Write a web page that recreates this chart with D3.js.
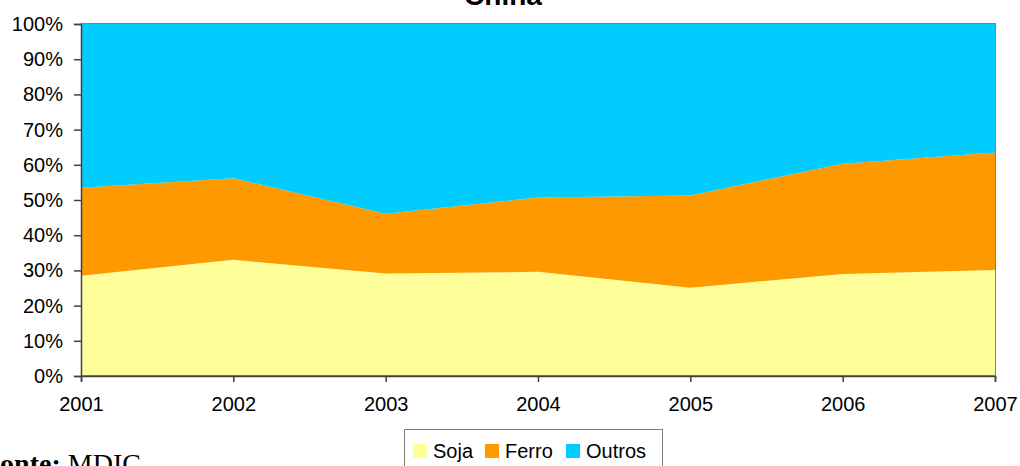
<!DOCTYPE html>
<html>
<head>
<meta charset="utf-8">
<script src="https://cdn.jsdelivr.net/npm/d3@7"></script>
<style>
  html, body { margin: 0; padding: 0; background: #fff; }
  svg { display: block; }
</style>
</head>
<body>
<div id="chart"></div>
<script>
// data (share of exports to China, %)
var years = [2001, 2002, 2003, 2004, 2005, 2006, 2007];
var soja = [28.5, 33.0, 29.1, 29.6, 25.1, 29.0, 30.1];
var ferro = [25.0, 23.2, 17.0, 21.1, 26.2, 31.3, 33.4];
var outros = [46.5, 43.8, 53.9, 49.3, 48.7, 39.7, 36.5];
var seriesNames = ['Soja', 'Ferro', 'Outros'];
var seriesColors = ['#FFFF99', '#FF9900', '#00CCFF'];
var yTicks = [0, 0.1, 0.2, 0.3, 0.4, 0.5, 0.6, 0.7, 0.8, 0.9, 1];

var width = 1020, height = 466;
var margin = { top: 24, right: 25, bottom: 90, left: 81 };
var innerW = width - margin.left - margin.right;
var innerH = height - margin.top - margin.bottom;

var rows = years.map(function (y, i) {
    return { year: y, Soja: soja[i], Ferro: ferro[i], Outros: outros[i] };
});

var svg = d3.select('#chart').append('svg')
    .attr('width', width)
    .attr('height', height)
    .style('font-family', 'Liberation Sans, Arial, sans-serif');

var g = svg.append('g')
    .attr('transform', 'translate(' + margin.left + ',' + margin.top + ')');

var x = d3.scaleLinear().domain(d3.extent(years)).range([0, innerW]);
var y = d3.scaleLinear().domain([0, 1]).range([innerH, 0]);
var color = d3.scaleOrdinal().domain(seriesNames).range(seriesColors);

var stacked = d3.stack()
    .keys(seriesNames)
    .offset(d3.stackOffsetExpand)(rows);

var area = d3.area()
    .x(function (d) { return x(d.data.year); })
    .y0(function (d) { return y(d[0]); })
    .y1(function (d) { return y(d[1]); });

g.selectAll('.layer')
    .data(stacked)
    .enter().append('path')
    .attr('class', 'layer')
    .attr('d', area)
    .attr('fill', function (d) { return color(d.key); });

// plot border (top / right in grey)
g.append('rect')
    .attr('x', 0.5).attr('y', -0.5)
    .attr('width', innerW).attr('height', innerH)
    .attr('fill', 'none')
    .attr('stroke', '#808080')
    .attr('stroke-width', 1);

var yAxis = g.append('g')
    .call(d3.axisLeft(y).tickValues(yTicks).tickSize(7).tickPadding(11)
        .tickFormat(d3.format('.0%')));
var xAxis = g.append('g')
    .attr('transform', 'translate(0,' + innerH + ')')
    .call(d3.axisBottom(x).tickValues(years).tickSize(6).tickPadding(15)
        .tickFormat(d3.format('d')));

[yAxis, xAxis].forEach(function (ax) {
    ax.select('.domain').attr('stroke', '#404040').attr('stroke-width', 1.5);
    ax.selectAll('.tick line').attr('stroke', '#404040').attr('stroke-width', 1.5);
    ax.selectAll('text')
        .attr('fill', '#000')
        .style('font-family', 'Liberation Sans, Arial, sans-serif')
        .style('font-size', '20px');
});

// title, cut off at the top like the reference
svg.append('text')
    .text('China')
    .attr('x', 503)
    .attr('y', 5)
    .attr('text-anchor', 'middle')
    .style('font-size', '28px')
    .style('font-weight', 'bold');

// legend
var legend = svg.append('g').attr('transform', 'translate(404,429)');
legend.append('rect')
    .attr('x', 0.5).attr('y', 0.5)
    .attr('width', 258).attr('height', 60)
    .attr('fill', '#fff')
    .attr('stroke', '#808080');
var itemX = [9, 81, 162];
var item = legend.selectAll('.item')
    .data(seriesNames)
    .enter().append('g')
    .attr('class', 'item')
    .attr('transform', function (d, i) { return 'translate(' + itemX[i] + ',0)'; });
item.append('rect')
    .attr('y', 15).attr('width', 14).attr('height', 14)
    .attr('fill', function (d) { return color(d); });
item.append('text')
    .text(function (d) { return d; })
    .attr('x', 20).attr('y', 29)
    .style('font-size', '20px');

// source note
var fonte = svg.append('text')
    .attr('x', -17)
    .attr('y', 473)
    .style('font-family', 'Liberation Serif, Times New Roman, serif')
    .style('font-size', '28px');
fonte.append('tspan').text('Fonte: ').style('font-weight', 'bold');
fonte.append('tspan').text('MDIC');
</script>
</body>
</html>
